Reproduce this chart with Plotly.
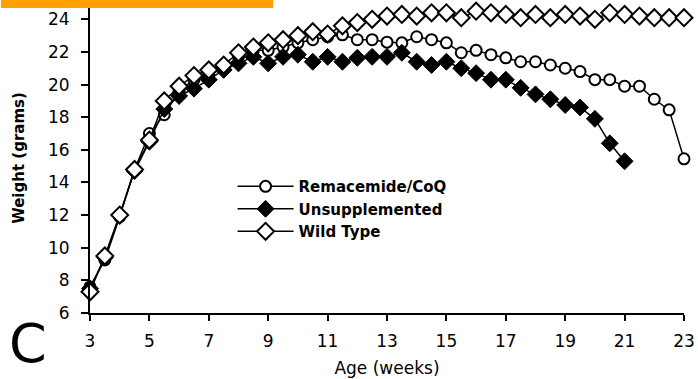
import plotly.graph_objects as go

weeks = [3 + 0.5 * i for i in range(41)]

remacemide = [7.6, 9.25, 11.9, 14.8, 17.0, 18.15, 19.6, 20.3, 20.6, 21.0,
              21.7, 22.1, 22.1, 22.3, 22.56, 22.75, 22.93, 23.05, 22.75, 22.75,
              22.6, 22.56, 22.93, 22.75, 22.56, 21.95, 22.1, 21.83, 21.64, 21.4,
              21.4, 21.2, 21.0, 20.8, 20.3, 20.3, 19.9, 19.9, 19.1, 18.45, 15.45]

unsupplemented = [7.5, 9.4, 12.0, 14.7, 16.5, 18.5, 19.3, 19.75, 20.3, 20.9,
                  21.3, 21.7, 21.3, 21.7, 21.83, 21.4, 21.7, 21.4, 21.64, 21.7,
                  21.7, 21.95, 21.4, 21.2, 21.4, 21.0, 20.7, 20.3, 20.3, 19.8,
                  19.4, 19.1, 18.75, 18.6, 17.9, 16.4, 15.3]

wild_type = [7.3, 9.5, 12.0, 14.8, 16.6, 19.0, 19.9, 20.55, 20.9, 21.2,
             21.95, 22.3, 22.56, 22.75, 23.0, 23.24, 23.1, 23.6, 23.8, 24.0,
             24.2, 24.3, 24.2, 24.4, 24.4, 24.1, 24.5, 24.4, 24.3, 24.1,
             24.3, 24.1, 24.3, 24.2, 24.0, 24.4, 24.3, 24.2, 24.1, 24.1, 24.1]

x_ticks = [3, 5, 7, 9, 11, 13, 15, 17, 19, 21, 23]
y_ticks = [6, 8, 10, 12, 14, 16, 18, 20, 22, 24]

names = ["Remacemide/CoQ", "Unsupplemented", "Wild Type"]

fig = go.Figure()
fig.add_trace(go.Scatter(
    x=weeks[:len(remacemide)], y=remacemide, name=names[0], mode="lines+markers",
    line=dict(color="black", width=1.5),
    marker=dict(symbol="circle", size=11, color="white", line=dict(color="black", width=2)),
    cliponaxis=False))
fig.add_trace(go.Scatter(
    x=weeks[:len(unsupplemented)], y=unsupplemented, name=names[1], mode="lines+markers",
    line=dict(color="black", width=1.5),
    marker=dict(symbol="diamond", size=13, color="black", line=dict(color="black", width=1)),
    cliponaxis=False))
fig.add_trace(go.Scatter(
    x=weeks[:len(wild_type)], y=wild_type, name=names[2], mode="lines+markers",
    line=dict(color="black", width=1.5),
    marker=dict(symbol="diamond", size=13, color="white", line=dict(color="black", width=2)),
    cliponaxis=False))

fig.update_layout(
    width=698, height=379,
    margin=dict(l=90, r=8, t=3, b=66),
    paper_bgcolor="white", plot_bgcolor="white",
    font=dict(family="DejaVu Sans", color="black", size=16),
    showlegend=True,
    legend=dict(x=0.24, y=0.461, xanchor="left", yanchor="top",
                bgcolor="rgba(0,0,0,0)", tracegroupgap=0,
                font=dict(family="DejaVu Sans", size=15, weight="bold"),
                itemwidth=56),
    xaxis=dict(range=[3, 23], tickvals=x_ticks, ticktext=[str(t) for t in x_ticks],
               showgrid=False, zeroline=False, showline=True, linecolor="black", linewidth=2,
               ticks="outside", ticklen=6, tickwidth=2, tickcolor="black",
               tickfont=dict(size=17), ticklabelstandoff=6, ticklabeloverflow="allow",
               title=dict(text="Age (weeks)", font=dict(size=17), standoff=12)),
    yaxis=dict(range=[6, 25], tickvals=y_ticks, ticktext=[str(t) for t in y_ticks],
               showgrid=False, zeroline=False, showline=True, linecolor="black", linewidth=2,
               ticks="outside", ticklen=7, tickwidth=2, tickcolor="black",
               tickfont=dict(size=17), ticklabelstandoff=8,
               title=dict(text="Weight (grams)", font=dict(size=15, weight="bold"), standoff=20)),
    shapes=[dict(type="rect", xref="paper", yref="paper",
                 x0=-0.15, x1=0.3083, y0=0.984, y1=1.02,
                 fillcolor="#FFA000", line=dict(width=0), layer="above")],
    annotations=[dict(text="C", xref="paper", yref="paper", x=-0.105, y=-0.097,
                      xanchor="center", yanchor="middle", showarrow=False,
                      font=dict(family="DejaVu Sans", size=54, color="black"))],
)

fig.write_html("out.html", config={"displayModeBar": False},
               post_script="document.body.style.margin='0';")
